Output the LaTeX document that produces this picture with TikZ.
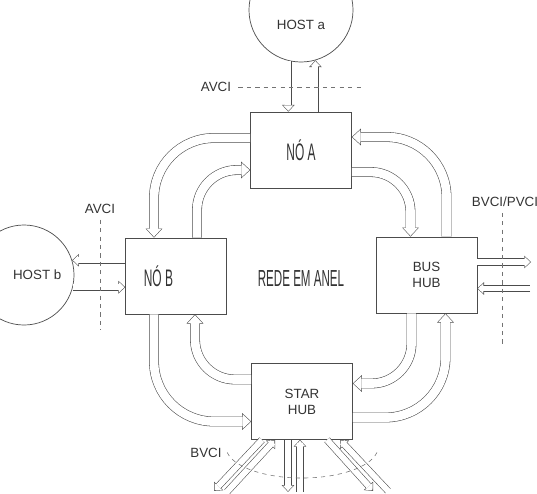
\documentclass[tikz,border=0pt]{standalone}
\usepackage{fontspec}
\setmainfont{Liberation Sans}
\newfontfamily\narrowfont[FakeStretch=0.5]{Liberation Sans}
\usetikzlibrary{arrows.meta, calc}
\colorlet{traco}{black!70}

\begin{document}
\begin{tikzpicture}[x=0.025cm, y=-0.025cm,
    caixa/.style={rectangle, draw=traco, fill=white, line width=0.5pt, minimum width=2.52cm, minimum height=1.9cm, align=center, font=\fontsize{9.5}{11.5}\selectfont, text=black!80},
    estreito/.style={font=\narrowfont\fontsize{17}{19}\selectfont},
    rotulo/.style={font=\fontsize{9.5}{11}\selectfont, text=black!80, inner sep=1pt},
    anel/.style={preaction={draw=traco, line width=7pt, shorten >=0pt, -{Triangle[length=6.5pt, width=12pt, line width=0pt]}},
        draw=white, line width=6.2pt, shorten >=0.59pt, -{Triangle[length=5.5pt, width=10.2pt, line width=0pt]}},
    ligacao/.style={preaction={draw=traco, line width=5pt, shorten >=0pt, -{Triangle[length=4.8pt, width=9pt, line width=0pt]}},
        draw=white, line width=4.2pt, shorten >=0.58pt, -{Triangle[length=3.8pt, width=7.2pt, line width=0pt]}},
    tracejado/.style={draw=black!55, dashed, line width=0.4pt}]

    \useasboundingbox (0,0) rectangle (537,493);

    % hosts
    \begin{scope}
        \clip (0,0) rectangle (537,493);
        \node[circle, draw=traco, line width=0.5pt, minimum size=2.6cm, label={[rotulo, yshift=-0.375cm]center:HOST a}] (hosta) at (301,10) {};
        \node[circle, draw=traco, line width=0.5pt, minimum size=2.5cm, label={[rotulo, xshift=0.33cm]center:HOST b}] (hostb) at (24,275) {};
    \end{scope}

    % blocos do anel
    \node[caixa, estreito] (noa) at (301,150) {NÓ A};
    \node[caixa, estreito] (nob) at (176,276) {NÓ B\hspace*{25pt}};
    \node[caixa] (bus) at (426.5,275) {BUS\\HUB};
    \node[caixa] (star) at (302,401.5) {STAR\\HUB};
    \node[estreito, text=black!80, font=\narrowfont\fontsize{16.5}{18}\selectfont] (rede) at (301,279) {REDE EM ANEL};

    % anel
    \draw[anel, rounded corners=1.5cm] ($(noa.west)+(0,-12)$) -| ($(nob.north)+(-22,0)$);
    \draw[anel, rounded corners=1cm] ($(nob.north)+(21,0)$) |- ($(noa.west)+(0,20)$);
    \draw[anel, rounded corners=1.5cm] ($(bus.north)+(20,0)$) |- ($(noa.east)+(0,-13)$);
    \draw[anel, rounded corners=1cm] ($(noa.east)+(0,22)$) -| ($(bus.north)+(-16,0)$);
    \draw[anel, rounded corners=1.5cm] ($(nob.south)+(-22,0)$) |- ($(star.west)+(0,20)$);
    \draw[anel, rounded corners=1cm] ($(star.west)+(0,-22)$) -| ($(nob.south)+(19,0)$);
    \draw[anel, rounded corners=1cm] ($(bus.south)+(-15,0)$) |- ($(star.east)+(0,-18)$);
    \draw[anel, rounded corners=1.5cm] ($(star.east)+(0,16)$) -| ($(bus.south)+(19,0)$);

    % host a
    \draw[ligacao] (hosta.-104) -- (hosta.-104 |- noa.north);
    \draw[ligacao] (hosta.-74 |- noa.north) -- (hosta.-74);
    \node[rotulo] (avcia) at (216,87) {AVCI};
    \coordinate (avcia fim) at (362,87);
    \draw[tracejado, shorten <=4pt] (avcia.east) -- (avcia fim);

    % host b
    \draw[ligacao] (hostb.17 -| nob.west) -- (hostb.17);
    \draw[ligacao] (hostb.-14) -- (hostb.-14 -| nob.west);
    \node[rotulo] (avcib) at (100,209) {AVCI};
    \coordinate (avcib fim) at (100,330);
    \draw[tracejado, shorten <=3pt] (avcib.south) -- (avcib fim);

    % bus hub
    \coordinate (bus saida) at (531,262);
    \coordinate (bus entrada) at (530,288.5);
    \draw[ligacao] (bus.east |- bus saida) -- (bus saida);
    \draw[ligacao, line cap=rect] (bus entrada) -- (bus.east |- bus entrada);
    \node[rotulo] (bvpv) at (505,202) {BVCI/PVCI};
    \coordinate (bvpv fim) at (502,345);
    \draw[tracejado, shorten <=3pt] (bvpv.south -| bvpv fim) -- (bvpv fim);

    % star hub
    \draw[ligacao] ($(star.south)+(-40,0)$) -- ++(-48,51);
    \draw[ligacao, line cap=rect] ($(star.south)+(-75,52)$) -- ($(star.south)+(-27,0)$);
    \draw[ligacao] ($(star.south)+(-14,0)$) -- ++(0,52);
    \draw[ligacao, line cap=rect] ($(star.south)+(-2,52)$) -- ($(star.south)+(-2,0)$);
    \draw[ligacao] ($(star.south)+(25,0)$) -- ++(46,51);
    \draw[ligacao, line cap=rect] ($(star.south)+(86,51)$) -- ($(star.south)+(38,0)$);
    \node[rotulo] (bvci) at (206,453) {BVCI};
    \draw[tracejado] (227.2,452.4) arc[start angle=170, end angle=10, x radius=76, y radius=31];
\end{tikzpicture}
\end{document}
